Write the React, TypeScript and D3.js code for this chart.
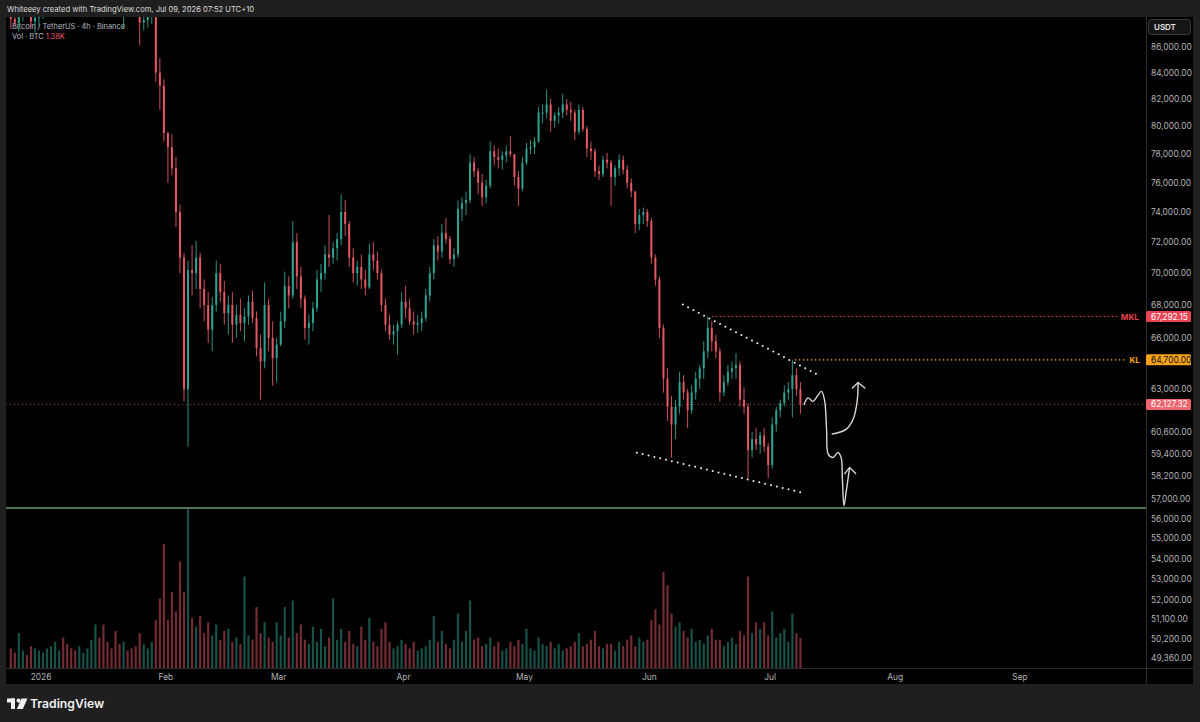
import * as d3 from "d3";

// daily OHLC (thousand USDT), consecutive days from START
const START = "2025-12-24";
const OPEN0 = 88.6;
const highs = [
  88.9, 88.6, 89.0, 89.6, 89.9, 89.5, 88.8, 89.2,
  // Jan
  90.5, 91.8, 92.3, 93.5, 94.6, 94.9, 93.8, 92.0, 91.9, 91.2, 91.6, 92.4, 95.5, 97.8, 97.6, 96.0,
  95.8, 95.6, 94.6, 92.9, 90.0, 90.2, 90.0, 89.6, 89.3, 88.6, 89.0, 89.4, 89.0, 85.1, 83.5,
  // Feb
  79.6, 79.4, 77.8, 74.5, 71.3, 70.8, 71.8, 72.1, 71.3, 69.6, 68.8, 68.5, 70.8, 70.6, 69.5, 68.6,
  68.8, 68.0, 68.4, 67.8, 68.6, 68.9, 67.6, 66.2, 69.4, 68.4, 67.0, 66.0,
  // Mar
  67.6, 70.1, 69.8, 73.4, 72.6, 70.4, 68.6, 67.4, 68.2, 70.2, 70.6, 71.8, 73.8, 72.0, 72.6, 75.2,
  74.8, 73.4, 71.6, 70.8, 71.2, 70.2, 71.9, 72.0, 71.4, 70.2, 68.4, 67.4, 66.8, 67.0, 68.8,
  // Apr
  69.2, 68.4, 67.6, 67.4, 67.6, 69.0, 70.4, 72.2, 72.4, 73.2, 73.6, 72.4, 71.6, 74.8, 75.0, 75.4,
  78.0, 77.8, 77.0, 76.6, 76.2, 78.9, 78.6, 78.4, 78.2, 78.6, 79.3, 78.0, 76.8, 77.8,
  // May
  78.8, 79.0, 79.2, 81.4, 81.6, 82.7, 82.0, 81.0, 81.4, 82.4, 82.0, 81.8, 81.2, 81.6, 81.4, 80.0,
  78.9, 78.4, 77.2, 77.9, 78.1, 77.6, 77.2, 78.0, 77.9, 77.2, 76.3, 75.4, 74.2, 74.3, 74.2,
  // Jun
  73.6, 71.2, 69.8, 66.8, 64.2, 62.6, 62.4, 64.0, 63.8, 63.0, 63.2, 64.0, 64.4, 65.8, 67.3, 67.0,
  66.2, 65.4, 63.8, 64.4, 64.6, 65.1, 64.6, 63.1, 62.2, 60.6, 60.8, 60.6, 60.8, 60.0,
  // Jul
  61.4, 62.0, 62.4, 63.2, 63.4, 64.7, 64.2, 63.4,
];
const lows = [
  87.4, 87.6, 87.2, 88.0, 88.5, 87.5, 87.1, 87.6,
  88.2, 89.6, 90.6, 91.2, 92.4, 92.8, 91.0, 90.2, 89.8, 90.0, 90.2, 90.4, 91.6, 94.6, 95.0, 94.5,
  94.8, 94.0, 91.8, 88.5, 87.4, 88.6, 88.8, 88.9, 86.1, 87.3, 87.5, 87.8, 83.3, 81.2, 78.9,
  76.0, 76.5, 73.0, 70.0, 62.3, 59.8, 68.6, 69.0, 67.8, 67.0, 65.7, 65.2, 67.6, 68.2, 66.8, 66.2,
  65.7, 66.0, 66.4, 65.8, 66.8, 66.9, 64.9, 62.4, 64.2, 65.2, 63.2, 63.4,
  65.5, 66.6, 67.8, 68.4, 69.0, 67.8, 65.9, 65.6, 66.4, 67.6, 68.8, 69.6, 70.4, 70.6, 70.8, 71.8,
  72.4, 70.4, 69.4, 69.2, 69.0, 68.6, 69.0, 70.2, 69.6, 67.6, 66.4, 65.9, 65.6, 65.0, 66.6,
  67.2, 66.8, 66.2, 66.3, 66.4, 67.0, 68.2, 69.6, 70.8, 71.0, 71.9, 70.6, 70.4, 71.0, 73.4, 73.8,
  74.6, 76.4, 75.2, 74.4, 74.6, 75.6, 77.2, 77.0, 76.9, 77.4, 77.8, 75.8, 74.4, 75.4,
  77.2, 78.0, 78.0, 78.8, 80.2, 80.6, 79.6, 79.9, 80.2, 80.6, 80.8, 80.4, 79.0, 79.4, 79.6, 77.8,
  77.6, 76.4, 76.2, 76.4, 77.0, 74.4, 75.8, 76.5, 76.6, 75.6, 75.0, 72.6, 72.8, 73.2, 73.0,
  70.6, 69.2, 66.0, 62.8, 61.2, 59.2, 60.2, 61.6, 62.4, 60.8, 61.6, 62.4, 63.0, 63.6, 64.8, 65.2,
  64.8, 62.3, 62.6, 63.2, 63.6, 63.6, 62.0, 61.6, 58.1, 59.2, 59.6, 59.4, 59.5, 58.1,
  58.6, 60.6, 61.4, 62.0, 62.4, 61.4, 62.6, 61.6,
];
const closes = [
  88.2, 87.9, 88.5, 89.2, 89.0, 88.0, 88.3, 88.6,
  90.0, 91.2, 91.6, 92.9, 93.8, 93.4, 91.5, 91.0, 90.6, 90.8, 91.1, 92.0, 95.0, 97.0, 95.6, 95.3,
  95.2, 94.4, 92.6, 89.2, 89.6, 89.4, 89.3, 89.2, 87.9, 88.1, 88.4, 88.6, 84.0, 83.0, 79.5,
  78.5, 77.0, 74.0, 71.0, 63.0, 70.2, 70.0, 71.0, 69.0, 68.0, 66.5, 68.0, 70.0, 68.8, 67.5, 68.0,
  66.8, 67.4, 66.9, 67.3, 68.2, 67.2, 65.4, 64.6, 68.0, 66.0, 64.8, 65.6,
  67.0, 69.2, 68.6, 72.0, 69.8, 68.4, 66.6, 66.9, 67.8, 69.6, 70.0, 71.2, 71.0, 71.6, 72.2, 74.0,
  73.2, 71.0, 70.0, 70.4, 69.6, 69.1, 71.2, 70.8, 70.0, 68.0, 66.8, 66.2, 66.4, 66.8, 68.2,
  67.8, 67.0, 66.8, 66.9, 67.2, 68.6, 70.0, 71.8, 71.4, 72.6, 72.2, 70.9, 71.2, 74.2, 74.6, 74.8,
  77.4, 76.8, 76.0, 75.0, 75.8, 78.2, 77.8, 77.6, 77.9, 78.2, 78.0, 76.4, 75.6, 77.4,
  78.4, 78.5, 78.9, 81.0, 81.0, 81.6, 80.4, 80.8, 81.0, 81.6, 81.2, 81.0, 79.6, 81.2, 79.8, 78.4,
  78.2, 76.8, 76.6, 77.6, 77.4, 76.4, 77.0, 77.6, 76.9, 76.0, 75.4, 73.2, 73.8, 74.0, 73.4,
  71.0, 69.6, 66.6, 63.6, 62.0, 61.0, 62.0, 63.4, 62.8, 61.8, 62.8, 63.6, 64.2, 65.2, 66.6, 65.8,
  65.2, 62.8, 63.4, 64.0, 64.2, 64.4, 62.4, 62.0, 59.6, 60.2, 59.9, 60.4, 59.8, 58.8,
  61.0, 61.8, 62.2, 62.8, 63.0, 63.8, 63.0, 62.12732,
];
// volume, thousand BTC
const volumes = [
  0.9, 0.7, 1.6, 0.8, 0.6, 1.0, 0.9, 0.8,
  0.7, 0.9, 1.0, 1.2, 0.8, 1.4, 1.1, 0.9, 0.8, 1.0, 0.7, 0.9, 1.3, 2.0, 1.4, 2.0,
  1.2, 0.9, 1.7, 1.1, 1.2, 0.8, 0.9, 1.0, 1.6, 1.1, 0.9, 1.2, 2.2, 3.2, 5.7,
  2.2, 3.5, 2.6, 4.9, 3.5, 7.4, 2.3, 1.9, 2.4, 1.6, 2.1, 1.5, 2.0, 1.3, 1.7, 1.8,
  1.2, 1.4, 1.1, 4.2, 1.5, 1.3, 2.8, 1.6, 2.1, 1.4, 1.2, 2.1,
  1.5, 2.8, 1.4, 3.1, 1.6, 2.0, 1.3, 1.1, 1.9, 1.2, 1.8, 1.0, 1.4, 3.2, 1.3, 1.8,
  1.2, 1.7, 1.1, 1.0, 1.9, 1.3, 2.3, 1.2, 1.0, 1.8, 2.1, 1.2, 0.9, 1.0, 1.3,
  1.1, 0.9, 1.2, 0.8, 0.9, 1.0, 1.3, 2.4, 1.2, 1.7, 1.1, 0.9, 1.3, 2.5, 1.2, 1.7,
  3.1, 1.3, 1.4, 1.0, 1.1, 1.4, 1.0, 1.2, 0.8, 0.9, 1.2, 1.0, 1.3, 1.1,
  1.8, 0.9, 0.8, 1.4, 1.1, 1.0, 1.2, 0.9, 1.1, 0.8, 0.9, 1.0, 1.2, 1.6, 1.0, 1.1,
  1.3, 1.7, 1.0, 0.9, 1.1, 1.1, 0.8, 1.2, 1.0, 1.3, 1.5, 1.0, 1.4, 1.2, 1.3,
  2.2, 2.7, 2.0, 4.4, 3.8, 2.5, 1.9, 2.1, 1.7, 1.4, 1.8, 1.2, 1.3, 1.1, 1.5, 1.8,
  1.3, 1.3, 1.0, 1.2, 1.4, 1.1, 1.7, 1.5, 4.2, 1.6, 2.1, 1.8, 2.1, 1.5,
  2.6, 1.4, 1.6, 1.8, 1.2, 2.5, 1.6, 1.38,
];

const priceTicks = [
  86000, 84000, 82000, 80000, 78000, 76000, 74000, 72000, 70000, 68000, 66000, 63000,
  60600, 59400, 58200, 57000, 56000, 55000, 54000, 53000, 52000, 51100, 50200, 49360,
];
const monthTicks = ["2026-01-01", "2026-02-01", "2026-03-01", "2026-04-01", "2026-05-01", "2026-06-01", "2026-07-01", "2026-08-01", "2026-09-01"];
const monthLabels = ["2026", "Feb", "Mar", "Apr", "May", "Jun", "Jul", "Aug", "Sep"];

// drawings: [days since 2026-01-01, price]
const upperTrend = [[159.3, 68030], [192.8, 63830]];
const lowerTrend = [[147.9, 59460], [189.1, 57330]];
const pathDown = [
  [189.4, 62130], [190.4, 62500], [191.6, 62300], [193.7, 62870], [194.5, 62340], [195.0, 60660],
  [195.4, 59380], [196.6, 59200], [197.8, 59470], [198.6, 59200], [198.9, 58140], [199.3, 56660],
  [199.9, 57440], [200.7, 58660],
];
const headDown = [[199.5, 58340], [200.7, 58660], [202.2, 58340]];
const pathUp = [[196.4, 60480], [199.9, 60750], [201.6, 61310], [202.6, 62340], [202.8, 63380]];
const headUp = [[201.4, 63060], [202.8, 63380], [204.5, 63060]];

const MKL = { price: 67292.15, from: 166.5 };
const KL = { price: 64700, from: 187.1 };
const LAST = 62127.32;
const SUPPORT = 56550;

const W = 1200;
const H = 722;
const L = 6;
const R = 1146;
const T = 17;
const B = 668;
const AXR = 1193;
const FONT = "Inter, Roboto, sans-serif";
const UP = "#2ea392";
const DOWN = "#e35863";

export default function App() {
  const x = d3
    .scaleUtc()
    .domain([new Date("2026-01-01T00:00:00Z"), new Date("2026-09-01T00:00:00Z")])
    .range([41, 1020]);
  const y = d3.scaleLog().domain([86000, 49360]).range([46.7, 657.5]);
  const v = d3.scaleLinear().domain([0, 7.4]).range([B, 507]);

  const base = Date.UTC(2026, 0, 1);
  const dd = (d: number) => new Date(base + d * 864e5);
  const start = new Date(START + "T00:00:00Z");
  const dayW = x(d3.utcDay.offset(start, 1)) - x(start);
  const fmt = d3.format(",.2f");

  const candles = closes.map((c, i) => {
    const t = d3.utcDay.offset(start, i);
    const o = i === 0 ? OPEN0 : closes[i - 1];
    return { cx: x(t) + dayW / 2, o: o * 1000, h: highs[i] * 1000, l: lows[i] * 1000, c: c * 1000, vol: volumes[i] };
  });

  const line = d3
    .line<number[]>()
    .x((p) => x(dd(p[0])))
    .y((p) => y(p[1]));
  const smooth = d3
    .line<number[]>()
    .x((p) => x(dd(p[0])))
    .y((p) => y(p[1]))
    .curve(d3.curveCatmullRom.alpha(0.5));

  const labelBox = (price: number, fill: string, txtColor: string) => (
    <g>
      <rect x={R} y={y(price) - 5.5} width={45} height={11} rx={1.5} fill={fill} />
      <text x={1151} y={y(price) + 3} fontSize={8.4} fill={txtColor} fontFamily={FONT}>
        {fmt(price)}
      </text>
    </g>
  );

  return (
    <div style={{ position: "fixed", left: 0, top: 0 }}>
      <svg width={W} height={H} style={{ display: "block" }}>
        <defs>
          <clipPath id="pane">
            <rect x={L} y={T} width={R - L} height={B - T} />
          </clipPath>
        </defs>
        <rect width={W} height={H} fill="#1f1f1f" />
        <rect x={L} y={T} width={AXR - L} height={684 - T} fill="#000" />

        {/* legend */}
        <text x={12} y={28.5} fontSize={7.4} fill="#b8bcc4" fontFamily={FONT}>
          Bitcoin / TetherUS · 4h · Binance
        </text>
        <text x={12} y={39} fontSize={7.4} fill="#b8bcc4" fontFamily={FONT}>
          Vol · BTC <tspan fill="#f05a65">1.38K</tspan>
        </text>

        <g clipPath="url(#pane)">
          {/* volume */}
          {candles.map((d, i) => (
            <rect
              key={"v" + i}
              x={d.cx - 1.1}
              y={v(d.vol)}
              width={2.2}
              height={B - v(d.vol)}
              fill={d.c >= d.o ? UP : DOWN}
              opacity={0.5}
            />
          ))}

          {/* support */}
          <line x1={L} x2={R} y1={y(SUPPORT)} y2={y(SUPPORT)} stroke="#52715a" strokeWidth={2} />

          {/* candles */}
          {candles.map((d, i) => {
            const col = d.c >= d.o ? UP : DOWN;
            const top = y(Math.max(d.o, d.c));
            const bot = y(Math.min(d.o, d.c));
            return (
              <g key={"c" + i}>
                <line x1={d.cx} x2={d.cx} y1={y(d.h)} y2={y(d.l)} stroke={col} strokeWidth={0.9} />
                <rect x={d.cx - 1} y={top} width={2} height={Math.max(1, bot - top)} fill={col} />
              </g>
            );
          })}

          {/* last price line */}
          <line x1={L} x2={R} y1={y(LAST)} y2={y(LAST)} stroke="#f05a65" strokeWidth={0.8} strokeDasharray="1 3" opacity={0.8} />

          {/* levels */}
          <line x1={x(dd(MKL.from))} x2={1118} y1={y(MKL.price)} y2={y(MKL.price)} stroke="#ea4452" strokeWidth={1} strokeDasharray="1.5 2.5" />
          <line x1={x(dd(KL.from))} x2={1126} y1={y(KL.price)} y2={y(KL.price)} stroke="#f7a21b" strokeWidth={1.2} strokeDasharray="1.5 2.5" />
          <text x={1139} y={y(MKL.price) + 3} textAnchor="end" fontSize={8.2} fontWeight={700} fill="#ea4452" fontFamily={FONT}>
            MKL
          </text>
          <text x={1140} y={y(KL.price) + 3} textAnchor="end" fontSize={8.2} fontWeight={700} fill="#f7a21b" fontFamily={FONT}>
            KL
          </text>

          {/* trend lines */}
          {[upperTrend, lowerTrend].map((pts, i) => (
            <path key={"t" + i} d={line(pts) || ""} fill="none" stroke="#f2f2f2" strokeWidth={2} strokeLinecap="round" strokeDasharray="0 6" />
          ))}

          {/* projection arrows */}
          {[pathDown, pathUp].map((pts, i) => (
            <path key={"a" + i} d={smooth(pts) || ""} fill="none" stroke="#d6d6d6" strokeWidth={1.4} strokeLinecap="round" strokeLinejoin="round" />
          ))}
          {[headDown, headUp].map((pts, i) => (
            <path key={"h" + i} d={line(pts) || ""} fill="none" stroke="#d6d6d6" strokeWidth={1.4} strokeLinecap="round" strokeLinejoin="round" />
          ))}
        </g>

        {/* axes borders */}
        <line x1={L} x2={AXR} y1={B + 0.5} y2={B + 0.5} stroke="#2c2c2c" />
        <line x1={R + 0.5} x2={R + 0.5} y1={T} y2={684} stroke="#2c2c2c" />

        {/* price axis */}
        {priceTicks.map((p) => (
          <text key={p} x={1151} y={y(p) + 3} fontSize={8.4} fill="#b4b4b4" fontFamily={FONT}>
            {fmt(p)}
          </text>
        ))}
        <rect x={1148.5} y={19.5} width={42} height={15} rx={3} fill="#151515" stroke="#3a3a3a" />
        <text x={1154} y={30} fontSize={8} fontWeight={600} fill="#e6e6e6" fontFamily={FONT}>
          USDT
        </text>
        {labelBox(MKL.price, "#ea4452", "#fff")}
        {labelBox(KL.price, "#f7a21b", "#111")}
        {labelBox(LAST, "#f0646d", "#fff")}

        {/* time axis */}
        {monthTicks.map((m, i) => (
          <text key={m} x={x(new Date(m + "T00:00:00Z"))} y={679.5} textAnchor="middle" fontSize={8.4} fill="#b4b4b4" fontFamily={FONT}>
            {monthLabels[i]}
          </text>
        ))}

        {/* header */}
        <rect x={0} y={0} width={W} height={T} fill="#1f1f1f" />
        <text x={7} y={12} fontSize={7.6} fill="#dedede" fontFamily={FONT}>
          Whiteeey created with TradingView.com, Jul 09, 2026 07:52 UTC+10
        </text>

        {/* footer logo */}
        <g fill="#f0f0f0">
          <rect x={7} y={698.5} width={8} height={4} />
          <rect x={11} y={698.5} width={4} height={10.5} />
          <circle cx={18.6} cy={700.6} r={2.1} />
          <polygon points="21.5,698.5 27.5,698.5 22.8,709 16.8,709" />
        </g>
        <text x={30} y={708} fontSize={12.2} fontWeight={600} fill="#f0f0f0" fontFamily={FONT}>
          TradingView
        </text>
      </svg>
    </div>
  );
}
